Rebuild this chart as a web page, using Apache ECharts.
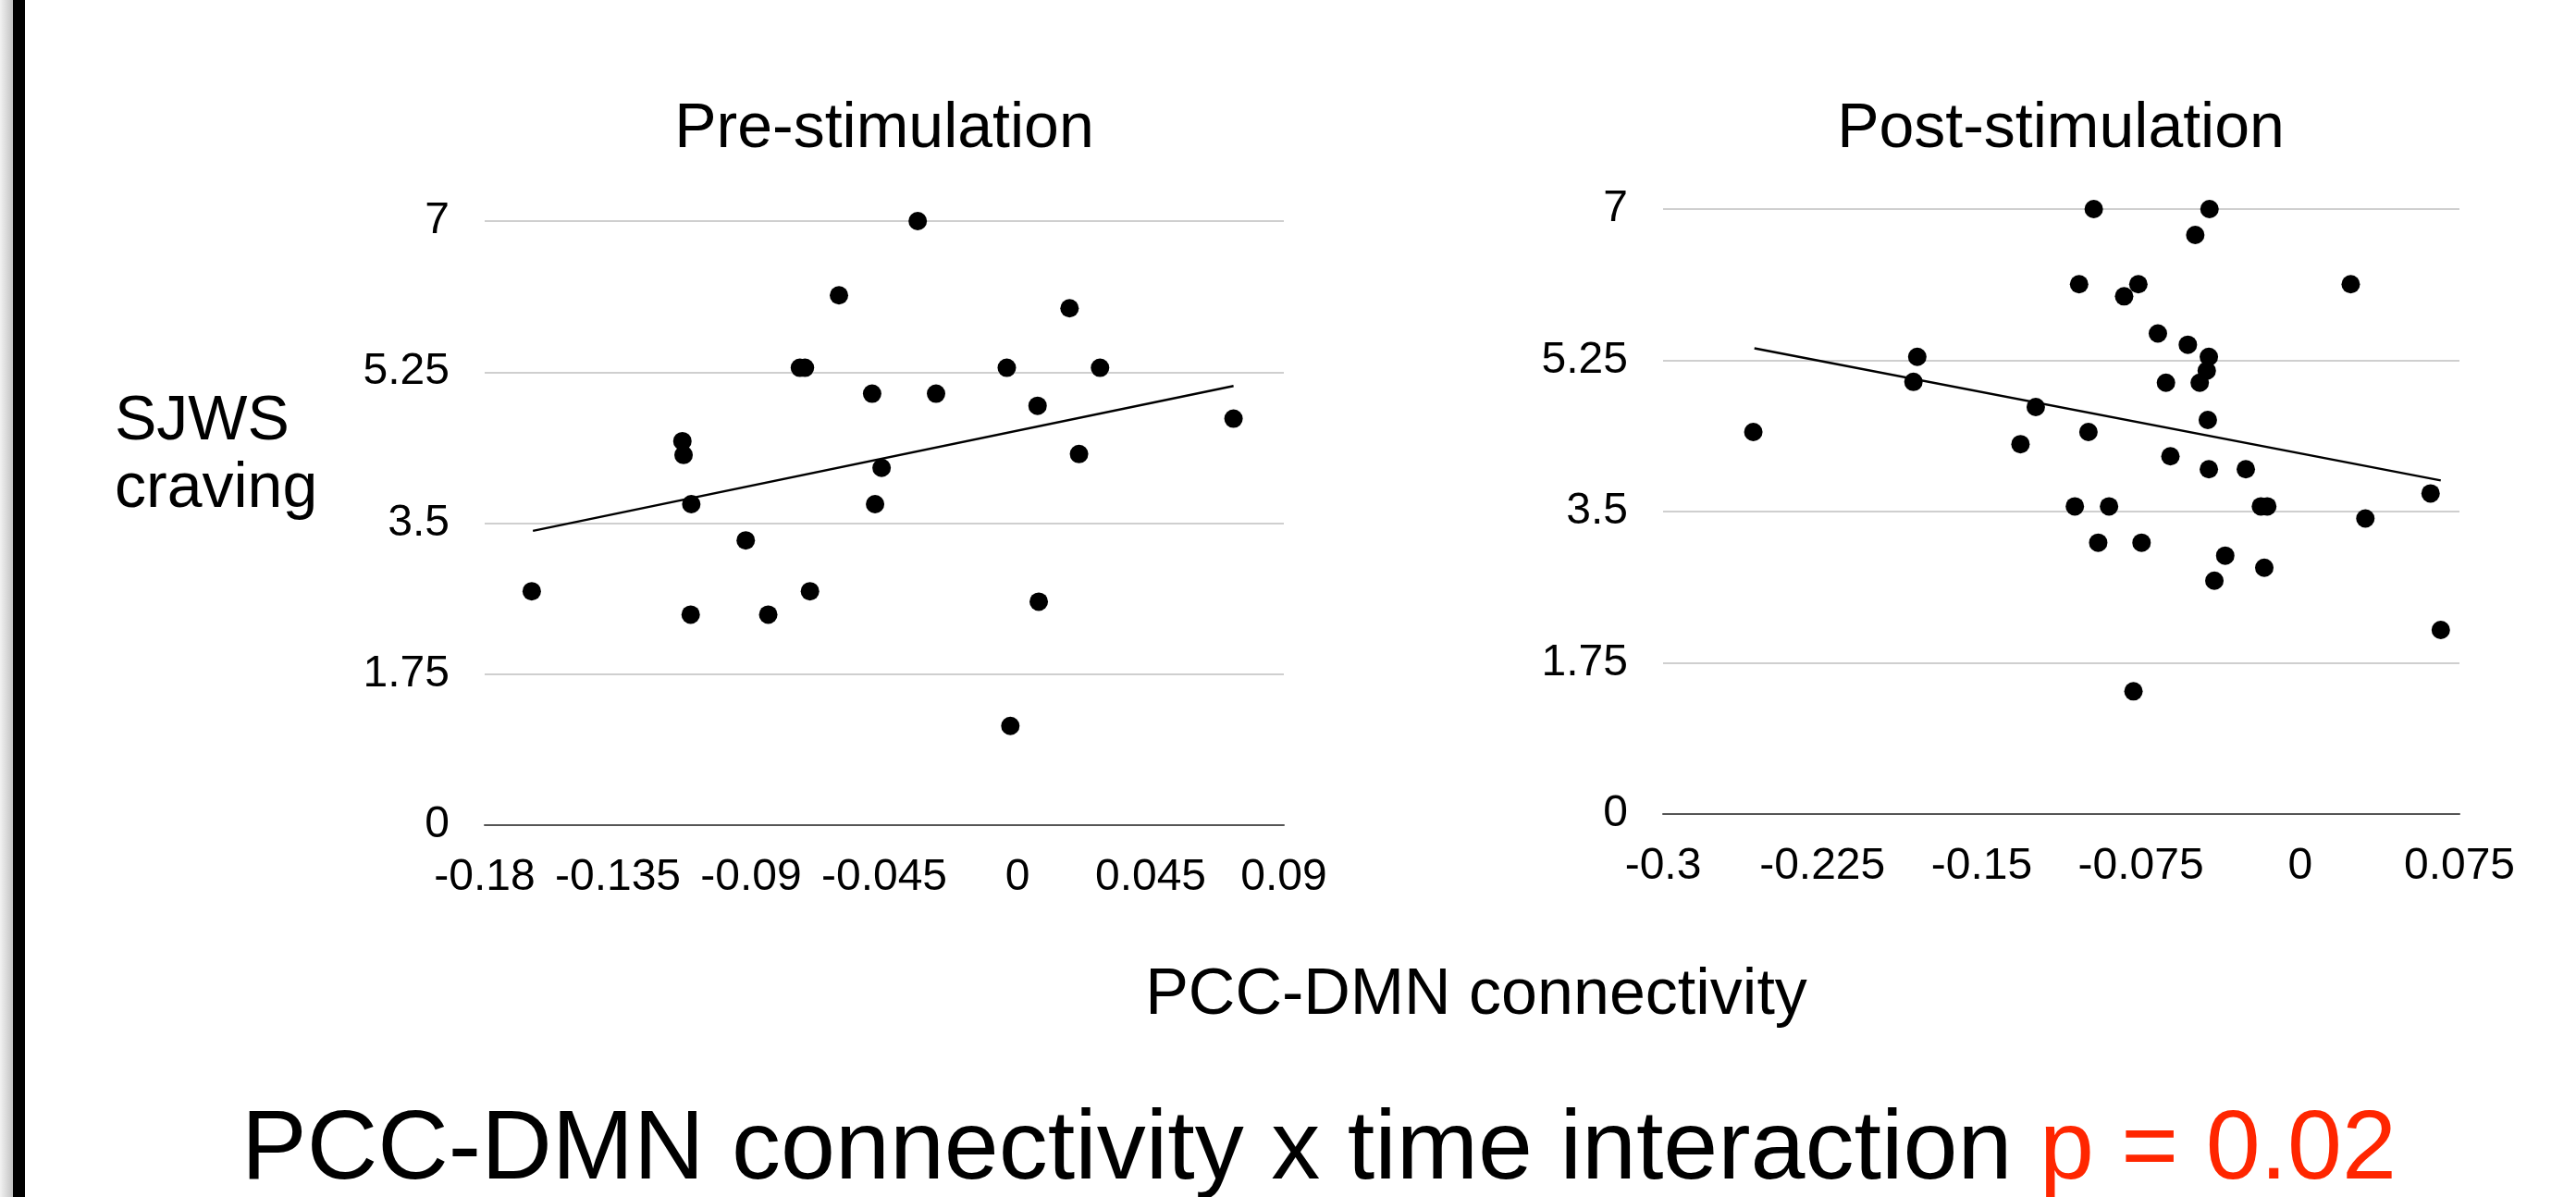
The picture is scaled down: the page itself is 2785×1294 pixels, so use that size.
<!DOCTYPE html>
<html>
<head>
<meta charset="utf-8">
<title>PCC-DMN connectivity</title>
<script src="https://cdn.jsdelivr.net/npm/echarts@6.0.0/dist/echarts.min.js"></script>
<style>
  html, body { margin: 0; padding: 0; background: #fff; }
  #chart { width: 2785px; height: 1294px; }
</style>
</head>
<body>
<div id="chart"></div>
<script>
// Pre-stimulation: PCC-DMN connectivity vs SJWS craving
var preX = [-0.0337, -0.0603, 0.0176, -0.0735, -0.0718, -0.0036, 0.0279, -0.0491, -0.0275, 0.0068, 0.0730, -0.1132,
  -0.1128, 0.0208, -0.0459, -0.1102, -0.0481, -0.0918, -0.1641, -0.0701, 0.0072, -0.1104, -0.0842, -0.0024];
var preY = [7.0, 6.14, 5.99, 5.30, 5.30, 5.30, 5.30, 5.0, 5.0, 4.86, 4.71, 4.45,
  4.29, 4.30, 4.14, 3.72, 3.72, 3.30, 2.71, 2.71, 2.59, 2.44, 2.44, 1.15];

// Post-stimulation
var postX = [-0.0972, -0.0427, -0.0494, -0.1041, -0.0762, 0.0238, -0.0829, -0.0670, -0.0529, -0.0430, -0.0440, -0.1803,
  -0.1821, -0.0632, -0.0473, -0.1245, -0.0435, -0.2575, -0.0997, -0.1317, -0.0611, -0.0430, -0.0256, 0.0614,
  -0.1061, -0.0900, -0.0185, -0.0155, 0.0307, -0.0951, -0.0747, -0.0353, -0.0169, -0.0404, 0.0662, -0.0785];
var postY = [7.0, 7.0, 6.70, 6.13, 6.13, 6.13, 5.99, 5.56, 5.43, 5.29, 5.13, 5.29,
  5.0, 4.99, 4.99, 4.71, 4.56, 4.42, 4.42, 4.28, 4.14, 3.99, 3.99, 3.71,
  3.56, 3.56, 3.56, 3.56, 3.42, 3.14, 3.14, 2.99, 2.85, 2.70, 2.13, 1.42];

// linear trendline end points
var preTrendX = [-0.1637, 0.0730];
var preTrendY = [3.41, 5.09];
var postTrendX = [-0.2570, 0.0662];
var postTrendY = [5.39, 3.86];

// axis settings
var preXRange = [-0.18, 0.09, 0.045];
var postXRange = [-0.3, 0.075, 0.075];
var yRange = [0, 7, 1.75];

var titles = ['Pre-stimulation', 'Post-stimulation'];
var yName = 'SJWS\ncraving';
var xName = 'PCC-DMN connectivity';
var footText = 'PCC-DMN connectivity x time interaction ';
var footP = 'p = 0.02';

var FONT = 'Liberation Sans, Arial, Helvetica, sans-serif';

function zip(xs, ys) {
  return xs.map(function (x, i) { return [x, ys[i]]; });
}

function xAxisFor(idx, r) {
  return {
    type: 'value', gridIndex: idx,
    min: r[0], max: r[1], interval: r[2],
    axisLine: { show: true, onZero: false, lineStyle: { color: '#555', width: 2 } },
    axisTick: { show: false },
    splitLine: { show: false },
    axisLabel: {
      color: '#000', fontSize: 48, fontFamily: FONT, margin: 33, showMinLabel: true, showMaxLabel: true,
      formatter: function (v) { return String(+v.toFixed(3)); }
    }
  };
}

function yAxisFor(idx) {
  return {
    type: 'value', gridIndex: idx,
    min: yRange[0], max: yRange[1], interval: yRange[2],
    axisLine: { show: false },
    axisTick: { show: false },
    splitLine: { show: true, lineStyle: { color: '#cfcfcf', width: 2 } },
    axisLabel: {
      color: '#000', fontSize: 48, fontFamily: FONT, margin: 38,
      formatter: function (v) { return String(+v.toFixed(2)); }
    }
  };
}

function titleStyle(size, lh) {
  return { fontSize: size, lineHeight: lh, fontWeight: 'normal', color: '#000', fontFamily: FONT };
}

var chart = echarts.init(document.getElementById('chart'), null, { renderer: 'canvas' });

var option = {
  backgroundColor: '#fff',
  animation: false,
  title: [
    { text: titles[0], left: 956, top: 106, textAlign: 'center', padding: 0, textStyle: titleStyle(68, 68) },
    { text: titles[1], left: 2228, top: 106, textAlign: 'center', padding: 0, textStyle: titleStyle(68, 68) },
    { text: yName, left: 124, top: 420, padding: 0, textStyle: titleStyle(68, 73) },
    { text: xName, left: 1596, top: 1042, textAlign: 'center', padding: 0, textStyle: titleStyle(70, 70) },
    { text: '{a|' + footText + '}{b|' + footP + '}', left: 1426, top: 1192, textAlign: 'center', padding: 0,
      textStyle: {
        fontFamily: FONT, fontWeight: 'normal',
        rich: {
          a: { fontSize: 106, lineHeight: 106, fontWeight: 'normal', color: '#000', fontFamily: FONT },
          b: { fontSize: 106, lineHeight: 106, fontWeight: 'normal', color: '#ff2600', fontFamily: FONT }
        }
      } }
  ],
  grid: [
    { left: 524, top: 239, width: 864, height: 653 },
    { left: 1798, top: 226, width: 861, height: 654 }
  ],
  xAxis: [xAxisFor(0, preXRange), xAxisFor(1, postXRange)],
  yAxis: [yAxisFor(0), yAxisFor(1)],
  series: [
    { type: 'scatter', xAxisIndex: 0, yAxisIndex: 0, symbolSize: 20,
      itemStyle: { color: '#000', opacity: 1 }, data: zip(preX, preY), z: 3 },
    { type: 'line', xAxisIndex: 0, yAxisIndex: 0, symbol: 'none',
      lineStyle: { color: '#000', width: 2.5 }, data: zip(preTrendX, preTrendY), z: 2 },
    { type: 'scatter', xAxisIndex: 1, yAxisIndex: 1, symbolSize: 20,
      itemStyle: { color: '#000', opacity: 1 }, data: zip(postX, postY), z: 3 },
    { type: 'line', xAxisIndex: 1, yAxisIndex: 1, symbol: 'none',
      lineStyle: { color: '#000', width: 2.5 }, data: zip(postTrendX, postTrendY), z: 2 }
  ],
  // slide edge on the left
  graphic: [
    { type: 'rect', left: 0, top: 0, shape: { width: 14, height: 1294 },
      style: { fill: new echarts.graphic.LinearGradient(0, 0, 1, 0, [
        { offset: 0, color: '#f2f2f2' }, { offset: 1, color: '#c2c2c2' }]) } },
    { type: 'rect', left: 14, top: 0, shape: { width: 13, height: 1294 }, style: { fill: '#000' } }
  ]
};

chart.setOption(option);
</script>
</body>
</html>
